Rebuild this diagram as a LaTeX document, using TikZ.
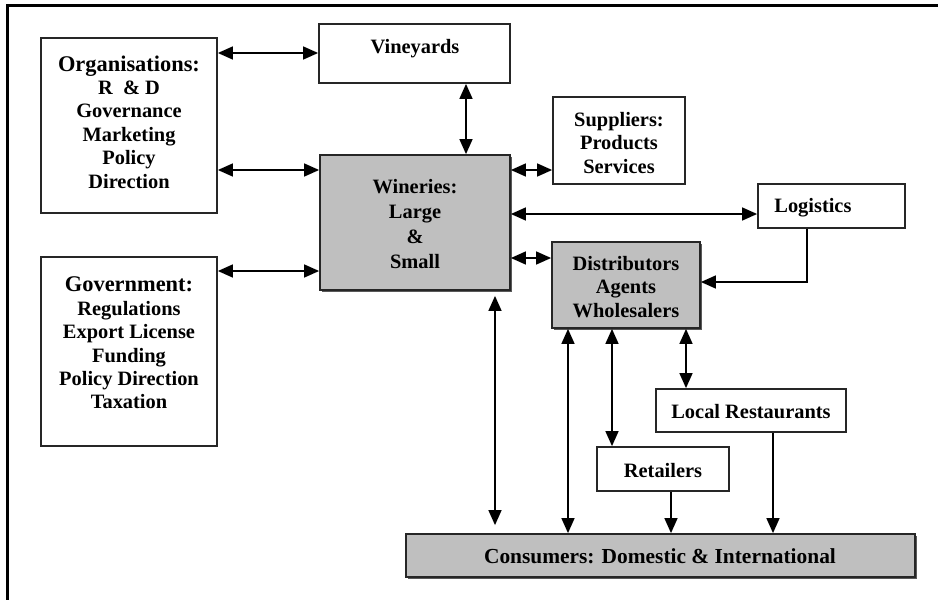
\documentclass[tikz,border=0pt]{standalone}
\usepackage{fontspec}
\setmainfont{Liberation Serif}
\usetikzlibrary{arrows.meta,fit,shadows}
\begin{document}
\begin{tikzpicture}[x=0.5pt,y=-0.5pt,
  box/.style={draw=black!85,line width=0.9pt,inner sep=0pt,fill=white},
  graybox/.style={box,fill=black!25,drop shadow={shadow xshift=1.1pt,shadow yshift=-1.1pt,fill=black!65,opacity=1}},
  txt/.style={font=\bfseries\fontsize{10.2}{11.7}\selectfont,align=center,inner sep=0pt},
  conn/.style={line width=0.75pt,{Triangle[length=7.5pt,width=6.5pt]}-{Triangle[length=7.5pt,width=6.5pt]}},
  oneway/.style={line width=0.75pt,-{Triangle[length=7.5pt,width=6.5pt]}},
  frameline/.style={line width=1.5pt}]
\useasboundingbox (0,0) rectangle (938,600);
\fill[white] (0,0) rectangle (938,600);
\draw[frameline] (7.5,600) -- (7.5,5.5) -- (938,5.5);

% boxes
\node[box,fit={(41,38) (217,213)}] (org) {};
\node[box,fit={(319,24) (510,83)}] (vin) {};
\node[graybox,fit={(320,155) (510,290)}] (win) {};
\node[box,fit={(553,97) (685,184)}] (sup) {};
\node[box,fit={(758,184) (905,228)}] (log) {};
\node[graybox,fit={(552,242) (700,328)}] (dist) {};
\node[box,fit={(41,257) (217,446)}] (gov) {};
\node[box,fit={(656,389) (846,432)}] (rest) {};
\node[box,fit={(597,447) (729,491)}] (ret) {};
\node[graybox,fit={(406,534) (915,577)}] (cons) {};

% texts
\node[txt] (orgt) at (129,122) {{\fontsize{11.2}{11.7}\selectfont Organisations:}\\R~~\& D\\Governance\\Marketing\\Policy\\Direction};
\node[txt] (vint) at (415,49) {Vineyards};
\node[txt,font=\bfseries\fontsize{10.2}{12.5}\selectfont] (wint) at (415,224) {Wineries:\\Large\\\&\\Small};
\node[txt] (supt) at (619,143) {Suppliers:\\Products\\Services};
\node[txt,anchor=west] (logt) at (774,208) {Logistics};
\node[txt] (distt) at (626,287) {Distributors\\Agents\\Wholesalers};
\node[txt] (govt) at (129,343) {{\fontsize{11.2}{11.7}\selectfont Government:}\\Regulations\\Export License\\Funding\\Policy Direction\\Taxation};
\node[txt] (restt) at (751,412) {Local Restaurants};
\node[txt] (rett) at (663,471) {Retailers};
\node[txt,font=\bfseries\fontsize{10.7}{12}\selectfont] (const) at (660,556) {Consumers: Domestic \& International};

% connectors
\draw[conn] (org.east |- 0,53) -- (vin.west |- 0,53);
\draw[conn] (org.east |- 0,170) -- (win.west |- 0,170);
\draw[conn] (gov.east |- 0,271) -- (win.west |- 0,271);
\draw[conn] (vin.south -| 466,0) -- (win.north -| 466,0);
\draw[conn] (win.east |- 0,170) -- (sup.west |- 0,170);
\draw[conn] (win.east |- 0,214) -- (log.west |- 0,214);
\draw[conn] (win.east |- 0,258) -- (dist.west |- 0,258);
\draw[oneway] (log.south -| 807,0) |- (dist.east |- 0,282);
\draw[conn,shorten <=2.5pt,shorten >=4pt] (win.south -| 495,0) -- (cons.north -| 495,0);
\draw[conn] (dist.south -| 568,0) -- (cons.north -| 568,0);
\draw[conn] (dist.south -| 612,0) -- (ret.north -| 612,0);
\draw[conn] (dist.south -| 686,0) -- (rest.north -| 686,0);
\draw[oneway] (ret.south -| 671,0) -- (cons.north -| 671,0);
\draw[oneway] (rest.south -| 773,0) -- (cons.north -| 773,0);
\end{tikzpicture}
\end{document}
